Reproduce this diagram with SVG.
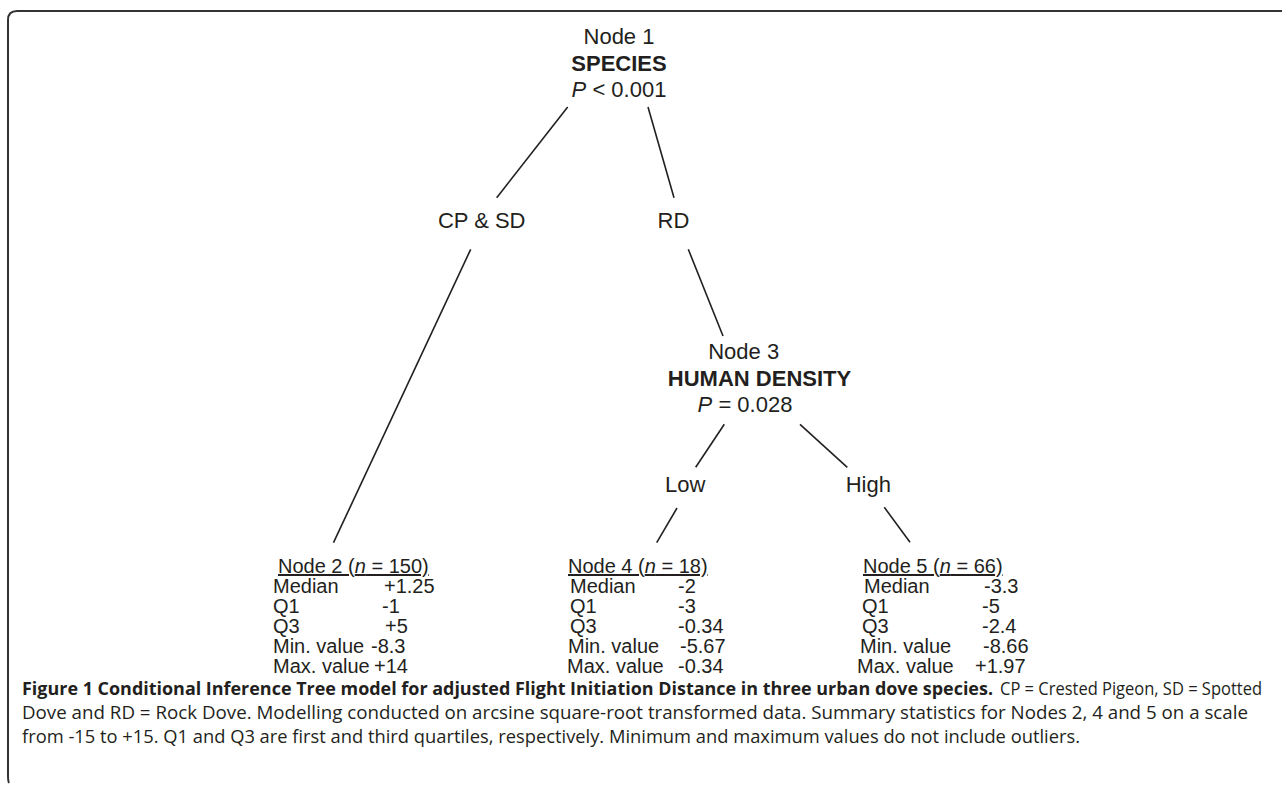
<svg xmlns="http://www.w3.org/2000/svg" width="1282" height="785" viewBox="0 0 1282 785">
<style>
  .t { font-family: "Liberation Sans", Arial, sans-serif; fill: #231f20; }
  .n { font-size: 22px; }
  .b { font-weight: bold; }
  .s { font-size: 20px; }
  .i { font-style: italic; }
  .c { font-family: "Open Sans", "Noto Sans", sans-serif; font-size: 17.5px; fill: #231f20; }
  .e { stroke: #231f20; stroke-width: 1.6; fill: none; }
</style>
<rect width="1282" height="785" fill="#fff"/>
<path d="M9,783 Q8,781 8,775 L8,20 Q8,11 17,11 L1282,11" fill="none" stroke="#333" stroke-width="2"/>

<g id="connectors">
  <line class="e" x1="567.7" y1="107" x2="496.7" y2="197.7"/>
  <line class="e" x1="648" y1="107" x2="674" y2="197.7"/>
  <line class="e" x1="470.7" y1="249.3" x2="333.5" y2="542.7"/>
  <line class="e" x1="688.3" y1="249.3" x2="723" y2="336"/>
  <line class="e" x1="724.3" y1="424.3" x2="695.7" y2="467.3"/>
  <line class="e" x1="800" y1="424.3" x2="847.3" y2="467.3"/>
  <line class="e" x1="677" y1="508" x2="656.7" y2="542.7"/>
  <line class="e" x1="884.3" y1="507.3" x2="910" y2="542.3"/>
</g>

<g id="node1" class="t n">
  <text x="619" y="44" text-anchor="middle">Node 1</text>
  <text x="619" y="71" text-anchor="middle" class="b">SPECIES</text>
  <text x="619" y="97" text-anchor="middle"><tspan class="i">P</tspan> &lt; 0.001</text>
</g>

<g id="edge-labels-1" class="t n">
  <text x="481.7" y="228" text-anchor="middle">CP &amp; SD</text>
  <text x="673.5" y="228" text-anchor="middle">RD</text>
</g>

<g id="node3" class="t n">
  <text x="743.7" y="359" text-anchor="middle">Node 3</text>
  <text x="759.5" y="386" text-anchor="middle" class="b">HUMAN DENSITY</text>
  <text x="745" y="412" text-anchor="middle"><tspan class="i">P</tspan> = 0.028</text>
</g>

<g id="edge-labels-3" class="t n">
  <text x="665" y="492">Low</text>
  <text x="845.7" y="492">High</text>
</g>

<g id="node2" class="t s">
  <text x="278" y="573" text-decoration="underline">Node 2 (<tspan class="i">n</tspan> = 150)</text>
  <text x="273" y="593">Median</text><text x="384" y="593">+1.25</text>
  <text x="273" y="613">Q1</text><text x="382" y="613">-1</text>
  <text x="273" y="633">Q3</text><text x="385" y="633">+5</text>
  <text x="273" y="653">Min. value</text><text x="371" y="653">-8.3</text>
  <text x="273" y="673">Max. value</text><text x="374" y="673">+14</text>
</g>

<g id="node4" class="t s">
  <text x="568" y="573" text-decoration="underline">Node 4 (<tspan class="i">n</tspan> = 18)</text>
  <text x="570" y="593">Median</text><text x="678" y="593">-2</text>
  <text x="570" y="613">Q1</text><text x="678" y="613">-3</text>
  <text x="570" y="633">Q3</text><text x="678" y="633">-0.34</text>
  <text x="568" y="653">Min. value</text><text x="680" y="653">-5.67</text>
  <text x="567" y="673">Max. value</text><text x="678" y="673">-0.34</text>
</g>

<g id="node5" class="t s">
  <text x="863" y="573" text-decoration="underline">Node 5 (<tspan class="i">n</tspan> = 66)</text>
  <text x="864" y="593">Median</text><text x="984" y="593">-3.3</text>
  <text x="862" y="613">Q1</text><text x="982" y="613">-5</text>
  <text x="862" y="633">Q3</text><text x="982" y="633">-2.4</text>
  <text x="860" y="653">Min. value</text><text x="983" y="653">-8.66</text>
  <text x="857" y="673">Max. value</text><text x="975" y="673">+1.97</text>
</g>

<g id="caption">
  <text class="c" x="22" y="695" font-weight="bold" textLength="971" lengthAdjust="spacingAndGlyphs">Figure 1 Conditional Inference Tree model for adjusted Flight Initiation Distance in three urban dove species.</text>
  <text class="c" x="1000" y="695" textLength="262" lengthAdjust="spacingAndGlyphs">CP = Crested Pigeon, SD = Spotted</text>
  <text class="c" x="22" y="719" textLength="1226" lengthAdjust="spacingAndGlyphs">Dove and RD = Rock Dove. Modelling conducted on arcsine square-root transformed data. Summary statistics for Nodes 2, 4 and 5 on a scale</text>
  <text class="c" x="22" y="743" textLength="1058" lengthAdjust="spacingAndGlyphs">from -15 to +15. Q1 and Q3 are first and third quartiles, respectively. Minimum and maximum values do not include outliers.</text>
</g>
</svg>
